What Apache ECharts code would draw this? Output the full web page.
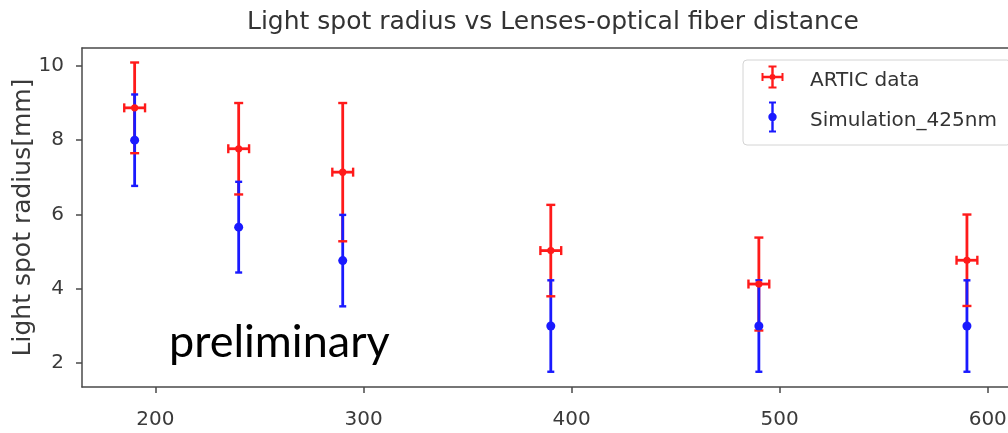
<!DOCTYPE html>
<html><head><meta charset="utf-8">
<script src="https://cdn.jsdelivr.net/npm/echarts@6/dist/echarts.min.js"></script>
<style>html,body{margin:0;padding:0;background:#fff}#chart{width:1008px;height:433px}</style>
</head><body><div id="chart"></div>
<script>
// ---- data ----
const distances = [190, 240, 290, 390, 490, 590];
const articRadius = [8.87, 7.77, 7.14, 5.03, 4.13, 4.77];
const articRadiusErr = [1.22, 1.23, 1.86, 1.23, 1.25, 1.23];
const articDistanceErr = [5, 5, 5, 5, 5, 5];
const simRadius = [8.0, 5.66, 4.76, 3.0, 3.0, 3.0];
const simRadiusErr = [1.23, 1.22, 1.23, 1.23, 1.23, 1.23];
const xTickValues = [200, 300, 400, 500, 600];
const yTickValues = [2, 4, 6, 8, 10];
const titleText = 'Light spot radius vs Lenses-optical fiber distance';
const yAxisTitle = 'Light spot radius[mm]';
const seriesNames = ['ARTIC data', 'Simulation_425nm'];
const watermarkText = 'preliminary';

// ---- build ----
const RED = '#ff1a1a', BLUE = '#1a1aff';
const articRows = distances.map((d, i) => [d, articRadius[i], articRadiusErr[i], articDistanceErr[i]]);
const simRows = distances.map((d, i) => [d, simRadius[i], simRadiusErr[i], 0]);

function makeRenderer(parts, color, o) {
  return function (params, api) {
    const x = api.value(0), y = api.value(1), ye = api.value(2), xe = api.value(3);
    const c = api.coord([x, y]);
    const top = api.coord([x, y + ye]);
    const bot = api.coord([x, y - ye]);
    const ch = [];
    const ls = { stroke: color, lineWidth: o.lw, fill: null };
    if (parts.indexOf('v') >= 0) {
      ch.push({ type: 'line', shape: { x1: c[0], y1: top[1], x2: c[0], y2: bot[1] }, style: ls });
    }
    if (parts.indexOf('c') >= 0) {
      ch.push({ type: 'line', shape: { x1: c[0] - o.cap, y1: top[1], x2: c[0] + o.cap, y2: top[1] }, style: { stroke: color, lineWidth: o.capw } });
      ch.push({ type: 'line', shape: { x1: c[0] - o.cap, y1: bot[1], x2: c[0] + o.cap, y2: bot[1] }, style: { stroke: color, lineWidth: o.capw } });
    }
    if (parts.indexOf('x') >= 0 && xe) {
      const l = api.coord([x - xe, y]), r = api.coord([x + xe, y]);
      ch.push({ type: 'line', shape: { x1: l[0], y1: c[1], x2: r[0], y2: c[1] }, style: ls });
      ch.push({ type: 'line', shape: { x1: l[0], y1: c[1] - o.cap, x2: l[0], y2: c[1] + o.cap }, style: { stroke: color, lineWidth: o.capw } });
      ch.push({ type: 'line', shape: { x1: r[0], y1: c[1] - o.cap, x2: r[0], y2: c[1] + o.cap }, style: { stroke: color, lineWidth: o.capw } });
    }
    if (parts.indexOf('m') >= 0) {
      ch.push({ type: 'circle', shape: { cx: c[0], cy: c[1], r: o.r }, style: { fill: color } });
    }
    return { type: 'group', children: ch };
  };
}

function customSeries(name, rows, parts, color, o, z) {
  return {
    type: 'custom', name: name, data: rows, z: z,
    itemStyle: { color: color },
    encode: { x: 0, y: 1 },
    xAxisIndex: 0, yAxisIndex: 0,
    clip: false,
    renderItem: makeRenderer(parts, color, o),
    silent: true
  };
}

const redOpt = { lw: 2.8, cap: 4.5, capw: 2.4, r: 3.6 };
const blueOpt = { lw: 2.8, cap: 3.5, capw: 2.4, r: 4.5 };

// legend icons (frame 44 x 40; icon drawn in left 23px, centred at y=16)
const redIcon = 'path://M0 0Z M44 40Z ' +
  'M0.5 14.8 L22.5 14.8 L22.5 17.2 L0.5 17.2 Z ' +
  'M10.3 4.5 L12.7 4.5 L12.7 27.5 L10.3 27.5 Z ' +
  'M0.5 12 L2.5 12 L2.5 20 L0.5 20 Z M20.5 12 L22.5 12 L22.5 20 L20.5 20 Z ' +
  'M7.5 4.5 L15.5 4.5 L15.5 6.5 L7.5 6.5 Z M7.5 25.5 L15.5 25.5 L15.5 27.5 L7.5 27.5 Z ' +
  'M8.5 16 A3 3 0 1 1 14.5 16 A3 3 0 1 1 8.5 16 Z';
const blueIcon = 'path://M0 0Z M44 40Z ' +
  'M10.3 0.5 L12.7 0.5 L12.7 31.5 L10.3 31.5 Z ' +
  'M8 0.5 L15 0.5 L15 2.5 L8 2.5 Z M8 29.5 L15 29.5 L15 31.5 L8 31.5 Z ' +
  'M7.3 16 A4.2 4.2 0 1 1 15.7 16 A4.2 4.2 0 1 1 7.3 16 Z';

const FONT = 'DejaVu Sans';
const TXT = '#3a3a3a';
const AX = '#4a4a4a';
const X_MIN = 164.7, X_MAX = 615.5, Y_MIN = 1.36, Y_MAX = 10.48;

const option = {
  animation: false,
  backgroundColor: '#fff',
  textStyle: { fontFamily: FONT },
  title: {
    text: titleText, left: 247, top: 10, padding: 0,
    textStyle: { fontFamily: FONT, fontSize: 25, fontWeight: 'normal', color: '#333' }
  },
  legend: {
    orient: 'vertical', left: 743, top: 60,
    padding: [1, 14, 4, 18], itemGap: 0,
    itemWidth: 44, itemHeight: 40,
    backgroundColor: '#fff', borderColor: '#d4d4d4', borderWidth: 1, borderRadius: 4,
    textStyle: { fontFamily: FONT, fontSize: 20, color: '#333' },
    data: [{ name: seriesNames[0], icon: redIcon }, { name: seriesNames[1], icon: blueIcon }],
    selectedMode: false
  },
  grid: {
    left: 82, top: 48, width: 938, height: 339,
    outerBoundsMode: 'none', containLabel: false, show: false
  },
  xAxis: [{
    type: 'value', min: X_MIN, max: X_MAX, position: 'bottom',
    axisLine: { show: true, onZero: false, lineStyle: { color: AX, width: 1.5 } },
    axisTick: { show: true, customValues: xTickValues, length: 6, lineStyle: { color: AX, width: 1.5 } },
    axisLabel: { customValues: xTickValues, fontFamily: FONT, fontSize: 20, color: TXT, margin: 23 },
    splitLine: { show: false }
  }, {
    type: 'value', min: X_MIN, max: X_MAX, position: 'top',
    axisLine: { show: true, onZero: false, lineStyle: { color: AX, width: 1.5 } },
    axisTick: { show: false }, axisLabel: { show: false }, splitLine: { show: false }
  }],
  yAxis: {
    type: 'value', min: Y_MIN, max: Y_MAX,
    name: yAxisTitle, nameLocation: 'middle', nameRotate: 90, nameGap: 46, nameMoveOverlap: false,
    nameTextStyle: { fontFamily: FONT, fontSize: 25, color: TXT },
    axisLine: { show: true, onZero: false, lineStyle: { color: AX, width: 1.5 } },
    axisTick: { show: true, customValues: yTickValues, length: 6, lineStyle: { color: AX, width: 1.5 } },
    axisLabel: { customValues: yTickValues, fontFamily: FONT, fontSize: 20, color: TXT, margin: 18 },
    splitLine: { show: false }
  },
  graphic: [{
    type: 'text', left: 169, top: 320, z: 100,
    style: { text: watermarkText, font: '45px Lato', fill: '#000' }
  }],
  series: [
    customSeries(seriesNames[0], articRows, 'v', RED, redOpt, 2),
    customSeries(seriesNames[1], simRows, 'vc', BLUE, blueOpt, 3),
    customSeries(seriesNames[0], articRows, 'cxm', RED, redOpt, 4),
    customSeries(seriesNames[1], simRows, 'm', BLUE, blueOpt, 5)
  ]
};

const chart = echarts.init(document.getElementById('chart'), null, { renderer: 'canvas' });
chart.setOption(option);
</script>
</body></html>
